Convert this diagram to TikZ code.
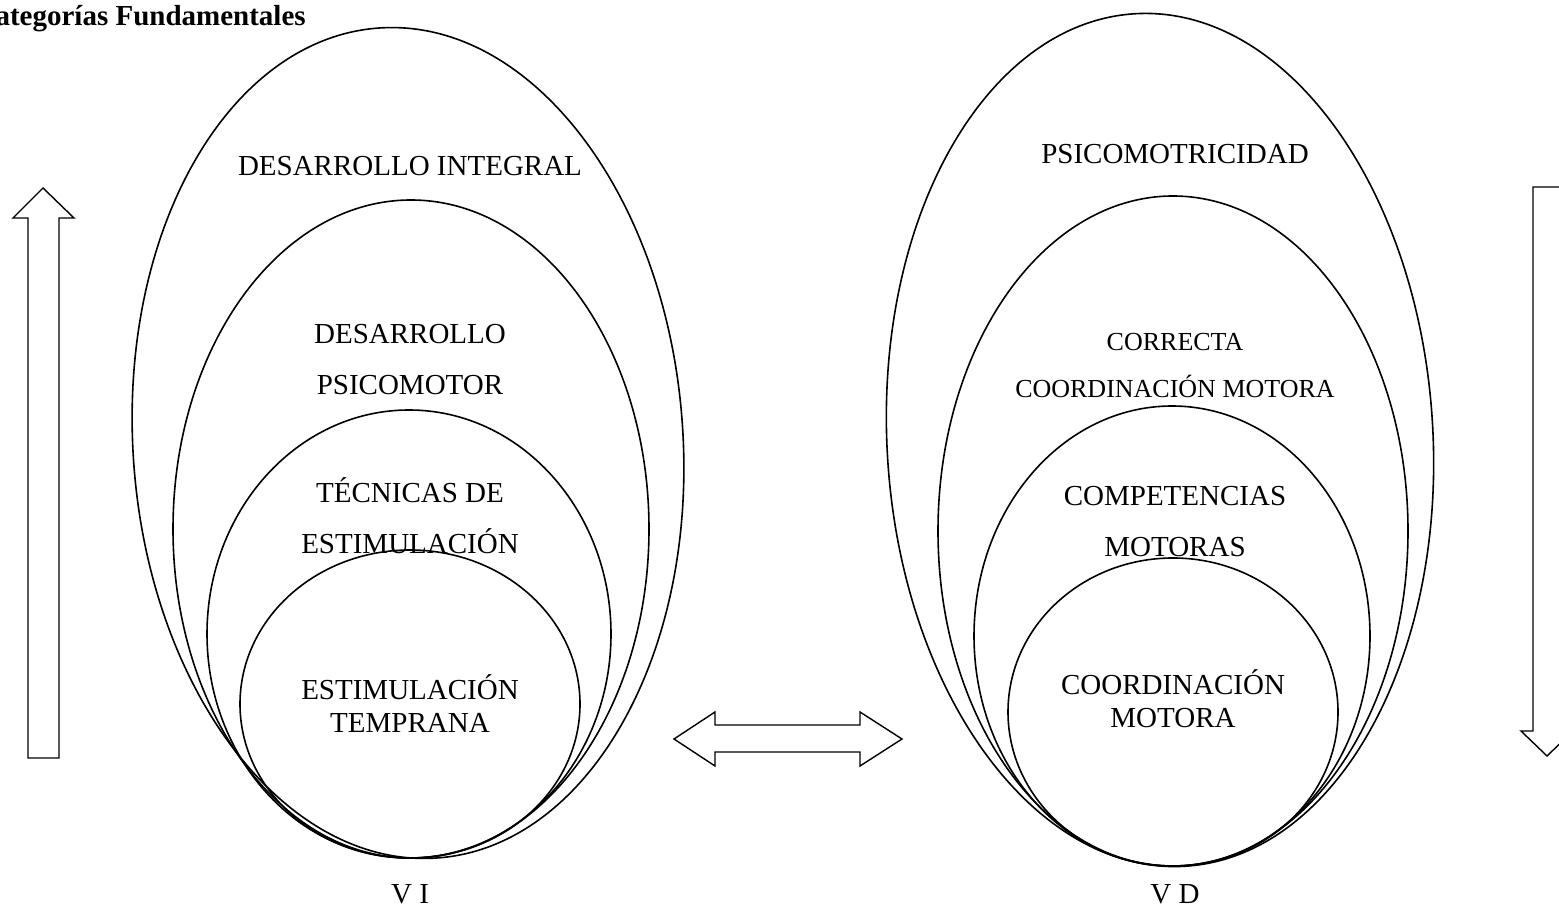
\documentclass[tikz,border=0pt]{standalone}
\usepackage{fontspec}
\setmainfont{Liberation Serif}

\begin{document}
\begin{tikzpicture}[x=0.5pt,y=0.5pt,yscale=-1,xscale=1,
  line width=0.8pt,
  lbl/.style={anchor=base,inner sep=0.75pt,font=\fontsize{14.5}{17}\selectfont},
  lblsm/.style={anchor=base,inner sep=0.75pt,font=\fontsize{13}{15}\selectfont},
  blockarrow/.style={draw,line width=0.7pt,fill=white}]
\useasboundingbox (0,0) rectangle (1559,908);

% Text Node
\draw (308,26) node [anchor=base east] [inner sep=0.75pt,font=\bfseries\fontsize{14.5}{17}\selectfont] (title) {Categorías Fundamentales};

%Shape: Ellipse (V I, outer)
\draw [rotate around={-4:(408,443)}] (408,443) ellipse (275 and 416);
%Shape: Ellipse
\draw (411,529) ellipse (238 and 329);
%Shape: Ellipse
\draw (409,634) ellipse (202 and 224);
%Shape: Ellipse
\draw (410,704) ellipse (170 and 154);

%Shape: Ellipse (V D, outer)
\draw [rotate around={-3.3:(1160,440)}] (1160,440) ellipse (273 and 427);
%Shape: Ellipse
\draw (1173,531) ellipse (235 and 335);
%Shape: Ellipse
\draw (1172,636) ellipse (198 and 230);
%Shape: Ellipse
\draw (1173,712) ellipse (165 and 154);

%Shape: Up Arrow
\draw [blockarrow] (28,758) -- (28,218) -- (13,218) -- (43,188) -- (74,218) -- (59,218) -- (59,758) -- cycle ;
%Shape: Down Arrow
\draw [blockarrow] (1533,187) -- (1533,731) -- (1521,731) -- (1547,756) -- (1573,731) -- (1563,731) -- (1563,187) -- cycle ;
%Shape: Left-Right Arrow
\draw [blockarrow] (674,739) -- (715,712) -- (715,725) -- (860,725) -- (860,712) -- (902,739) -- (860,766) -- (860,752) -- (715,752) -- (715,766) -- cycle ;

% Text Node
\draw (410,176) node [lbl] (di) {DESARROLLO INTEGRAL};
% Text Node
\draw (410,344) node [lbl] (dp1) {DESARROLLO};
% Text Node
\draw (410,395) node [lbl] (dp2) {PSICOMOTOR};
% Text Node
\draw (410,503) node [lbl] (te1) {TÉCNICAS DE};
% Text Node
\draw (410,554) node [lbl] (te2) {ESTIMULACIÓN};
% Text Node
\draw (410,700) node [lbl] (et1) {ESTIMULACIÓN};
% Text Node
\draw (410,733) node [lbl] (et2) {TEMPRANA};
% Text Node
\draw (410,903) node [lbl] (vi) {V I};

% Text Node
\draw (1175,164) node [lbl] (ps) {PSICOMOTRICIDAD};
% Text Node
\draw (1175,351) node [lblsm] (cc1) {CORRECTA};
% Text Node
\draw (1175,398) node [lblsm] (cc2) {COORDINACIÓN MOTORA};
% Text Node
\draw (1175,506) node [lbl] (cm1) {COMPETENCIAS};
% Text Node
\draw (1175,557) node [lbl] (cm2) {MOTORAS};
% Text Node
\draw (1173,695) node [lbl] (co1) {COORDINACIÓN};
% Text Node
\draw (1173,727) node [lbl] (co2) {MOTORA};
% Text Node
\draw (1175,903) node [lbl] (vd) {V D};

\end{tikzpicture}
\end{document}
